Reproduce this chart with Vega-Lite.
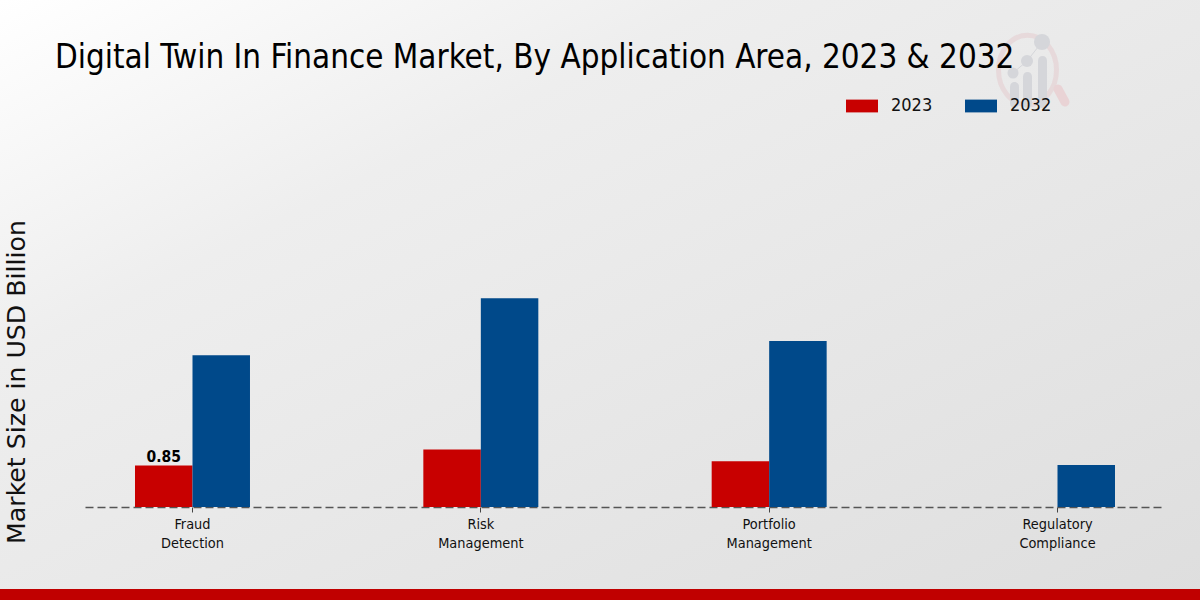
{
"$schema":"https://vega.github.io/schema/vega-lite/v6.json",
"width":1200,"height":600,"padding":0,"autosize":{"type":"none"},
"background":"#e5e5e5",
"view":{"stroke":null,"fill":{"gradient":"linear","x1":0,"y1":0,"x2":1,"y2":1,"stops":[{"offset":0,"color":"#ffffff"},{"offset":0.3,"color":"#eeeeee"},{"offset":1,"color":"#dedede"}]}},
"title":{"text":"Digital Twin In Finance Market, By Application Area, 2023 & 2032","anchor":"start","frame":"group","dx":55,"offset":-75,"font":"DejaVu Sans Condensed","fontSize":32.9,"fontWeight":"normal","color":"#000000"},
"datasets":{
"bars":[
{"Application":"Fraud Detection","Year":"2023","Value":0.85},
{"Application":"Fraud Detection","Year":"2032","Value":3.11},
{"Application":"Risk Management","Year":"2023","Value":1.18},
{"Application":"Risk Management","Year":"2032","Value":4.28},
{"Application":"Portfolio Management","Year":"2023","Value":0.94},
{"Application":"Portfolio Management","Year":"2032","Value":3.40},
{"Application":"Regulatory Compliance","Year":"2023","Value":0},
{"Application":"Regulatory Compliance","Year":"2032","Value":0.86}],
"ring":[{"px":1027.5,"py":70}],
"handle":[{"px":1058,"py":89,"o":0},{"px":1065,"py":102,"o":1}],
"stems":[{"a":1010,"b":1019,"t":82,"e":108},{"a":1023,"b":1032,"t":72,"e":108},{"a":1038,"b":1047,"t":56,"e":108}],
"dots":[{"px":1013,"py":73,"d":11},{"px":1027,"py":61,"d":12},{"px":1042,"py":42,"d":16}],
"links":[{"px":1013,"py":73,"o":0},{"px":1027,"py":61,"o":1},{"px":1042,"py":42,"o":2}],
"strip":[{"a":0,"b":1200,"t":589,"e":600}]
},
"layer":[
{"data":{"name":"ring"},"mark":{"type":"point","filled":false,"stroke":"#e6d3d5","strokeWidth":5,"size":3364,"shape":"M-1,0A1,1.2 0 1 1 1,0A1,1.2 0 1 1 -1,0Z"},
 "encoding":{"x":{"field":"px","type":"quantitative","scale":{"domain":[0,1200],"range":[0,1200]},"axis":null},"y":{"field":"py","type":"quantitative","scale":{"domain":[0,600],"range":[0,600]},"axis":null}}},
{"data":{"name":"handle"},"mark":{"type":"line","stroke":"#e9d3d5","strokeWidth":9,"strokeCap":"round"},
 "encoding":{"x":{"field":"px","type":"quantitative","scale":{"domain":[0,1200],"range":[0,1200]},"axis":null},"y":{"field":"py","type":"quantitative","scale":{"domain":[0,600],"range":[0,600]},"axis":null},"order":{"field":"o"}}},
{"data":{"name":"stems"},"mark":{"type":"bar","color":"#d5d6da","cornerRadius":4.5},
 "encoding":{"x":{"field":"a","type":"quantitative","scale":{"domain":[0,1200],"range":[0,1200]},"axis":null},"x2":{"field":"b"},"y":{"field":"t","type":"quantitative","scale":{"domain":[0,600],"range":[0,600]},"axis":null},"y2":{"field":"e"}}},
{"data":{"name":"links"},"mark":{"type":"line","stroke":"#d5d6da","strokeWidth":1},
 "encoding":{"x":{"field":"px","type":"quantitative","scale":{"domain":[0,1200],"range":[0,1200]},"axis":null},"y":{"field":"py","type":"quantitative","scale":{"domain":[0,600],"range":[0,600]},"axis":null},"order":{"field":"o"}}},
{"data":{"name":"dots"},"mark":{"type":"circle","color":"#d5d6da","opacity":1},
 "encoding":{"x":{"field":"px","type":"quantitative","scale":{"domain":[0,1200],"range":[0,1200]},"axis":null},"y":{"field":"py","type":"quantitative","scale":{"domain":[0,600],"range":[0,600]},"axis":null},"size":{"field":"d","type":"quantitative","scale":{"type":"pow","exponent":2,"domain":[0,100],"range":[0,10000]},"legend":null}}},
{"data":{"name":"strip"},"mark":{"type":"bar","color":"#c00000"},
 "encoding":{"x":{"field":"a","type":"quantitative","scale":{"domain":[0,1200],"range":[0,1200]},"axis":null},"x2":{"field":"b"},"y":{"field":"t","type":"quantitative","scale":{"domain":[0,600],"range":[0,600]},"axis":null},"y2":{"field":"e"}}},
{"data":{"name":"bars"},"mark":{"type":"bar"},
 "encoding":{
  "x":{"field":"Application","type":"nominal","sort":["Fraud Detection","Risk Management","Portfolio Management","Regulatory Compliance"],
   "scale":{"range":[85,1165],"paddingInner":0.6012,"paddingOuter":0.1734},
   "axis":{"title":null,"offset":-93,"labelAngle":0,"labelExpr":"split(datum.label,' ')","labelFont":"DejaVu Sans Condensed","labelFontSize":14.4,"labelLineHeight":19,"labelColor":"#111111","labelPadding":5,"tickColor":"#444444","tickSize":5,"domainColor":"#555555","domainDash":[8,4],"domainWidth":1.3,"grid":false}},
  "xOffset":{"field":"Year","type":"nominal","scale":{"domain":["2023","2032"]}},
  "y":{"field":"Value","type":"quantitative","scale":{"domain":[0,10.39],"range":[507,0]},
   "axis":{"title":"Market Size in USD Billion","domain":false,"ticks":false,"labels":false,"grid":false,"titleFont":"DejaVu Sans","titleFontSize":25.2,"titleFontWeight":"normal","titleColor":"#111111","titleX":29,"titleY":381.5,"titleAngle":270,"titleAnchor":"middle"}},
  "color":{"field":"Year","type":"nominal","scale":{"domain":["2023","2032"],"range":["#c80000","#00498a"]},
   "legend":{"title":null,"orient":"none","legendX":846,"legendY":90,"direction":"horizontal","columns":2,"columnPadding":32,"symbolType":"M-1,-0.4H1V0.4H-1Z","symbolSize":1024,"symbolStrokeWidth":0,"labelFont":"DejaVu Sans Condensed","labelFontSize":18,"labelColor":"#111111","labelOffset":13}}
 }},
{"data":{"values":[{"Application":"Fraud Detection","Year":"2023","Value":0.85}]},"mark":{"type":"text","baseline":"bottom","dy":-1,"font":"DejaVu Sans Condensed","fontSize":15.5,"fontWeight":"bold","color":"#000000"},
 "encoding":{
  "x":{"field":"Application","type":"nominal","sort":["Fraud Detection","Risk Management","Portfolio Management","Regulatory Compliance"],"scale":{"domain":["Fraud Detection","Risk Management","Portfolio Management","Regulatory Compliance"],"range":[85,1165],"paddingInner":0.6012,"paddingOuter":0.1734},"axis":null},
  "xOffset":{"field":"Year","type":"nominal","scale":{"domain":["2023","2032"]}},
  "y":{"field":"Value","type":"quantitative","scale":{"domain":[0,10.39],"range":[507,0]},"axis":null},
  "text":{"field":"Value","type":"quantitative","format":".2f"}
 }}
],
"resolve":{"scale":{"x":"independent","y":"independent","xOffset":"independent","size":"independent","color":"independent"},"axis":{"x":"independent","y":"independent"}},
"config":{"bar":{"stroke":null}}
}
